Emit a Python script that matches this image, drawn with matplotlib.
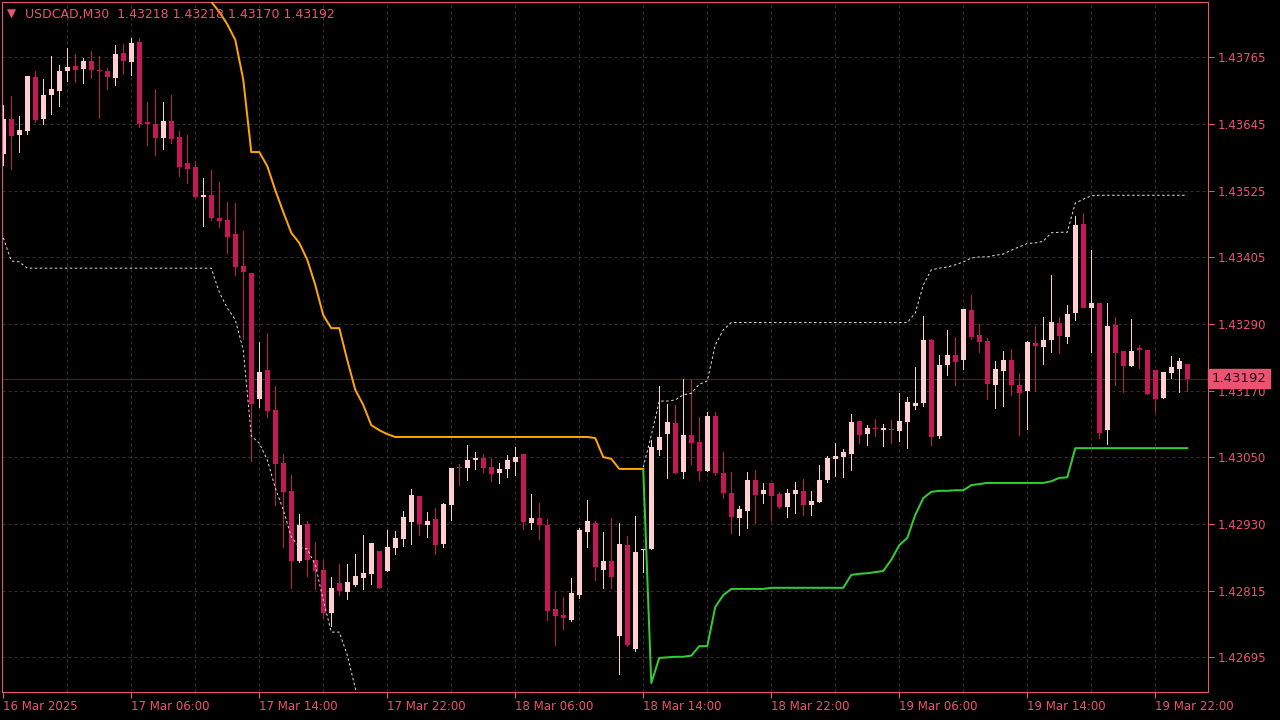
import matplotlib
matplotlib.use("Agg")
import matplotlib.pyplot as plt
import numpy as np
from matplotlib.transforms import blended_transform_factory

# ---------------------------------------------------------------------------
# Data (one entry per 30-minute bar)
# ---------------------------------------------------------------------------
symbol = "USDCAD,M30"
last_ohlc = ["1.43218", "1.43218", "1.43170", "1.43192"]
bid = 1.43192

opens = [
    1.43592, 1.43655, 1.43626, 1.43633, 1.43730, 1.43655, 1.43698, 1.43705, 1.43740, 1.43749,
    1.43744, 1.43758, 1.43742, 1.43740, 1.43728, 1.43772, 1.43756, 1.43792, 1.43649, 1.43646,
    1.43621, 1.43651, 1.43623, 1.43576, 1.43569, 1.43516, 1.43519, 1.43478, 1.43475, 1.43450,
    1.43393, 1.43380, 1.43155, 1.43207, 1.43136, 1.43041, 1.42991, 1.42867, 1.42933, 1.42868,
    1.42851, 1.42774, 1.42827, 1.42811, 1.42824, 1.42836, 1.42843, 1.42884, 1.42849, 1.42890,
    1.42906, 1.42936, 1.42982, 1.42931, 1.42942, 1.42897, 1.42966, 1.43034, 1.43032, 1.43047,
    1.43050, 1.43034, 1.43023, 1.43031, 1.43043, 1.43057, 1.42934, 1.42943, 1.42931, 1.42781,
    1.42770, 1.42761, 1.42806, 1.42918, 1.42934, 1.42851, 1.42867, 1.42733, 1.42895, 1.42710,
    1.42886, 1.42888, 1.43064, 1.43093, 1.43113, 1.43025, 1.43091, 1.43079, 1.43027, 1.43125,
    1.43023, 1.42988, 1.42943, 1.42956, 1.43011, 1.42986, 1.43006, 1.42986, 1.42963, 1.42986,
    1.42991, 1.42966, 1.42972, 1.43011, 1.43048, 1.43052, 1.43057, 1.43116, 1.43093, 1.43104,
    1.43100, 1.43102, 1.43098, 1.43114, 1.43143, 1.43148, 1.43261, 1.43089, 1.43216, 1.43234,
    1.43225, 1.43314, 1.43270, 1.43259, 1.43180, 1.43205, 1.43225, 1.43180, 1.43170, 1.43255,
    1.43248, 1.43261, 1.43291, 1.43266, 1.43309, 1.43468, 1.43318, 1.43327, 1.43100, 1.43287,
    1.43241, 1.43214, 1.43246, 1.43243, 1.43207, 1.43157, 1.43202, 1.43209, 1.43218,
]
highs = [
    1.43680, 1.43696, 1.43660, 1.43731, 1.43740, 1.43726, 1.43767, 1.43751, 1.43781, 1.43771,
    1.43764, 1.43776, 1.43767, 1.43746, 1.43787, 1.43788, 1.43799, 1.43799, 1.43685, 1.43708,
    1.43685, 1.43698, 1.43633, 1.43626, 1.43580, 1.43550, 1.43564, 1.43542, 1.43507, 1.43505,
    1.43455, 1.43380, 1.43257, 1.43273, 1.43179, 1.43057, 1.43020, 1.42950, 1.42938, 1.42900,
    1.42868, 1.42838, 1.42861, 1.42861, 1.42879, 1.42913, 1.42899, 1.42884, 1.42922, 1.42920,
    1.42956, 1.42995, 1.42982, 1.42954, 1.42961, 1.42970, 1.43032, 1.43040, 1.43073, 1.43061,
    1.43057, 1.43050, 1.43041, 1.43056, 1.43070, 1.43057, 1.42986, 1.42970, 1.42942, 1.42813,
    1.42802, 1.42836, 1.42925, 1.42975, 1.42938, 1.42918, 1.42943, 1.42934, 1.42911, 1.42947,
    1.42888, 1.43082, 1.43179, 1.43146, 1.43145, 1.43191, 1.43191, 1.43123, 1.43132, 1.43132,
    1.43061, 1.43025, 1.42965, 1.43025, 1.43029, 1.43006, 1.43006, 1.42990, 1.42995, 1.43007,
    1.43013, 1.42991, 1.43038, 1.43054, 1.43077, 1.43066, 1.43129, 1.43116, 1.43109, 1.43120,
    1.43111, 1.43118, 1.43166, 1.43159, 1.43212, 1.43303, 1.43262, 1.43234, 1.43278, 1.43266,
    1.43316, 1.43341, 1.43289, 1.43264, 1.43223, 1.43241, 1.43245, 1.43202, 1.43259, 1.43286,
    1.43302, 1.43377, 1.43302, 1.43323, 1.43482, 1.43487, 1.43421, 1.43327, 1.43327, 1.43302,
    1.43241, 1.43298, 1.43252, 1.43243, 1.43207, 1.43204, 1.43232, 1.43229, 1.43218,
]
lows = [
    1.43573, 1.43566, 1.43596, 1.43628, 1.43649, 1.43646, 1.43664, 1.43678, 1.43723, 1.43721,
    1.43719, 1.43728, 1.43657, 1.43708, 1.43715, 1.43735, 1.43733, 1.43640, 1.43608, 1.43591,
    1.43601, 1.43612, 1.43553, 1.43541, 1.43514, 1.43464, 1.43475, 1.43462, 1.43416, 1.43377,
    1.43262, 1.43045, 1.43141, 1.43123, 1.42966, 1.42892, 1.42818, 1.42865, 1.42840, 1.42817,
    1.42767, 1.42751, 1.42806, 1.42799, 1.42822, 1.42817, 1.42826, 1.42818, 1.42849, 1.42879,
    1.42893, 1.42897, 1.42913, 1.42909, 1.42879, 1.42892, 1.42940, 1.43002, 1.43011, 1.43031,
    1.43025, 1.43009, 1.43006, 1.43016, 1.43020, 1.42924, 1.42924, 1.42906, 1.42761, 1.42717,
    1.42745, 1.42760, 1.42801, 1.42892, 1.42833, 1.42818, 1.42818, 1.42665, 1.42715, 1.42706,
    1.42847, 1.42888, 1.43056, 1.43015, 1.43023, 1.43015, 1.43040, 1.43011, 1.43027, 1.43020,
    1.42979, 1.42917, 1.42913, 1.42925, 1.42934, 1.42970, 1.42940, 1.42961, 1.42945, 1.42952,
    1.42949, 1.42949, 1.42972, 1.43007, 1.43018, 1.43016, 1.43029, 1.43077, 1.43073, 1.43089,
    1.43072, 1.43077, 1.43081, 1.43068, 1.43138, 1.43143, 1.43073, 1.43086, 1.43198, 1.43180,
    1.43209, 1.43262, 1.43239, 1.43155, 1.43139, 1.43143, 1.43163, 1.43091, 1.43102, 1.43170,
    1.43218, 1.43239, 1.43237, 1.43255, 1.43296, 1.43320, 1.43239, 1.43086, 1.43075, 1.43180,
    1.43168, 1.43214, 1.43211, 1.43164, 1.43132, 1.43157, 1.43193, 1.43168, 1.43170,
]
closes = [
    1.43655, 1.43624, 1.43635, 1.43731, 1.43653, 1.43698, 1.43708, 1.43740, 1.43747, 1.43742,
    1.43758, 1.43742, 1.43740, 1.43730, 1.43771, 1.43758, 1.43790, 1.43646, 1.43646, 1.43621,
    1.43651, 1.43619, 1.43569, 1.43566, 1.43516, 1.43519, 1.43478, 1.43473, 1.43444, 1.43391,
    1.43382, 1.43146, 1.43204, 1.43134, 1.43040, 1.42990, 1.42867, 1.42931, 1.42868, 1.42849,
    1.42774, 1.42818, 1.42813, 1.42829, 1.42840, 1.42845, 1.42899, 1.42818, 1.42892, 1.42908,
    1.42945, 1.42984, 1.42933, 1.42938, 1.42895, 1.42968, 1.43032, 1.43032, 1.43047, 1.43050,
    1.43032, 1.43022, 1.43031, 1.43047, 1.43052, 1.42936, 1.42943, 1.42931, 1.42777, 1.42768,
    1.42765, 1.42810, 1.42922, 1.42938, 1.42856, 1.42867, 1.42838, 1.42897, 1.42717, 1.42883,
    1.42888, 1.43070, 1.43088, 1.43114, 1.43023, 1.43091, 1.43077, 1.43027, 1.43125, 1.43023,
    1.42988, 1.42945, 1.42959, 1.43011, 1.42984, 1.42993, 1.42982, 1.42963, 1.42988, 1.42993,
    1.42966, 1.42974, 1.43011, 1.43050, 1.43054, 1.43061, 1.43114, 1.43091, 1.43104, 1.43102,
    1.43104, 1.43100, 1.43116, 1.43150, 1.43148, 1.43261, 1.43088, 1.43216, 1.43234, 1.43221,
    1.43316, 1.43266, 1.43257, 1.43182, 1.43209, 1.43225, 1.43180, 1.43166, 1.43257, 1.43250,
    1.43261, 1.43293, 1.43268, 1.43307, 1.43466, 1.43318, 1.43327, 1.43095, 1.43286, 1.43237,
    1.43214, 1.43241, 1.43243, 1.43164, 1.43155, 1.43204, 1.43212, 1.43223, 1.43192,
]

# indicator lines (None where the line is not drawn)
orange_line = [None] * 25 + [
    1.43903, 1.43864, 1.43846, 1.43824, 1.43796, 1.43725, 1.43596, 1.43596, 1.43571, 1.43528,
    1.43489, 1.43452, 1.43434, 1.43404, 1.43359, 1.43305, 1.43282, 1.43282, 1.43225, 1.43172,
    1.43145, 1.43109, 1.43100, 1.43093,
] + [1.43088] * 25 + [1.43086, 1.43052, 1.43049, 1.43031, 1.43031, 1.43031, 1.43031] + [None] * 68

green_line = [None] * 80 + [
    1.43029, 1.42649, 1.42694, 1.42695, 1.42696, 1.42696, 1.42698, 1.42715, 1.42715, 1.42785,
    1.42806,
] + [1.42817] * 5 + [1.42819] * 10 + [
    1.42842, 1.42844, 1.42845, 1.42847, 1.42849, 1.42869, 1.42895, 1.42908, 1.42949, 1.42979,
    1.42990, 1.42992, 1.42992, 1.42993, 1.42993, 1.43002, 1.43004,
] + [1.43006] * 8 + [1.43009, 1.43015, 1.43016] + [1.43068] * 15

white_line = [1.43443, 1.43402, 1.43400] + [1.43389] * 24 + [
    1.43346, 1.43318, 1.43297, 1.43243, 1.43090, 1.43077, 1.43047, 1.42997, 1.42958, 1.42910,
    1.42892, 1.42888, 1.42860, 1.42797, 1.42740, 1.42740, 1.42699, 1.42640, 1.42583,
] + [None] * 34 + [
    1.43034, 1.43091, 1.43152, 1.43152, 1.43154, 1.43163, 1.43166, 1.43182, 1.43188, 1.43252,
    1.43279,
] + [1.43292] * 23 + [
    1.43309, 1.43359, 1.43386, 1.43389, 1.43391, 1.43395, 1.43400, 1.43407, 1.43409, 1.43409,
    1.43412, 1.43414, 1.43421, 1.43427, 1.43433, 1.43434, 1.43437, 1.43452, 1.43453, 1.43453,
    1.43505, 1.43512, 1.43518,
] + [1.43519] * 12

price_labels = ["1.43765", "1.43645", "1.43525", "1.43405", "1.43290",
                "1.43170", "1.43050", "1.42930", "1.42815", "1.42695"]
time_labels = ["16 Mar 2025", "17 Mar 06:00", "17 Mar 14:00", "17 Mar 22:00", "18 Mar 06:00",
               "18 Mar 14:00", "18 Mar 22:00", "19 Mar 06:00", "19 Mar 14:00", "19 Mar 22:00"]

# ---------------------------------------------------------------------------
# Style
# ---------------------------------------------------------------------------
BG = "#000000"
FG = "#EB5470"
BULL = "#FFCFCF"
BEAR = "#C4185A"
GRID = "#3A3126"
BID_LINE = "#3E2C1C"
ORANGE = "#FFA500"
GREEN = "#32CD32"
DOTS = "#DCDCDC"
PX = 72 / 100  # one pixel in points

n = len(closes)
x = np.arange(n)
o = np.array(opens)
h = np.array(highs)
l = np.array(lows)
c = np.array(closes)
up = c >= o

fig = plt.figure(figsize=(12.8, 7.2), dpi=100, facecolor=BG)
ax = fig.add_axes([2 / 1280, 28 / 720, 1206 / 1280, 690 / 720], facecolor=BG)

y_top, y_bot = 1.438636, 1.426332
ax.set_xlim(-0.16, 150.59)
ax.set_ylim(y_bot, y_top)

# grid
yticks = np.linspace(float(price_labels[0]), float(price_labels[-1]), len(price_labels))
for yv in yticks:
    ax.axhline(yv, color=GRID, lw=PX, ls=(0, (3, 3)), zorder=0)
for xv in range(8, n + 2, 8):
    ax.axvline(xv, color=GRID, lw=PX, ls=(0, (3, 3)), zorder=0)

ax.axhline(bid, color=BID_LINE, lw=PX, zorder=0.5)

# candles
for col, mask in ((BULL, up), (BEAR, ~up)):
    ax.vlines(x[mask], l[mask], h[mask], color=col, lw=PX, antialiased=False, zorder=2)
    body_lo = np.minimum(o, c)[mask]
    body_h = np.maximum(np.abs(c - o)[mask], 0.000018)
    ax.bar(x[mask], body_h, bottom=body_lo, width=0.65, color=col, lw=0,
           antialiased=False, zorder=2)

# indicator lines
def as_arr(vals):
    return np.array([np.nan if v is None else v for v in vals], dtype=float)

ax.plot(x, as_arr(white_line), color=DOTS, lw=PX, ls=(0, (2.5, 2.5)), zorder=3)
ax.plot(x, as_arr(orange_line), color=ORANGE, lw=2 * PX, zorder=3)
ax.plot(x, as_arr(green_line), color=GREEN, lw=2 * PX, zorder=3)

# frame and axes
for sp in ax.spines.values():
    sp.set_color(FG)
    sp.set_linewidth(PX)

ax.yaxis.tick_right()
ax.set_yticks(yticks)
ax.set_yticklabels(price_labels)
ax.set_xticks(np.arange(0, n, 16)[:len(time_labels)])
ax.set_xticklabels(time_labels, ha="left")
ax.tick_params(axis="both", colors=FG, labelcolor=FG, length=4, width=PX, labelsize=8.5)
ax.tick_params(axis="x", pad=2)
ax.tick_params(axis="y", pad=3)

# header
ax.text(0.0045, 0.9825, "\u25BC", transform=ax.transAxes, color=FG, fontsize=8.5,
        va="center", ha="left")
ax.text(0.019, 0.982, symbol + "  " + " ".join(last_ohlc), transform=ax.transAxes,
        color=FG, fontsize=9, va="center", ha="left")

# current price tag
tr = blended_transform_factory(ax.transAxes, ax.transData)
ax.text(1.003, bid, "{:.5f}".format(bid), transform=tr, color="#1A1020", fontsize=9.5,
        va="center", ha="left", zorder=6,
        bbox=dict(boxstyle="square,pad=0.25", facecolor=FG, edgecolor=FG))

fig.savefig("out.png", dpi=100, facecolor=BG)
